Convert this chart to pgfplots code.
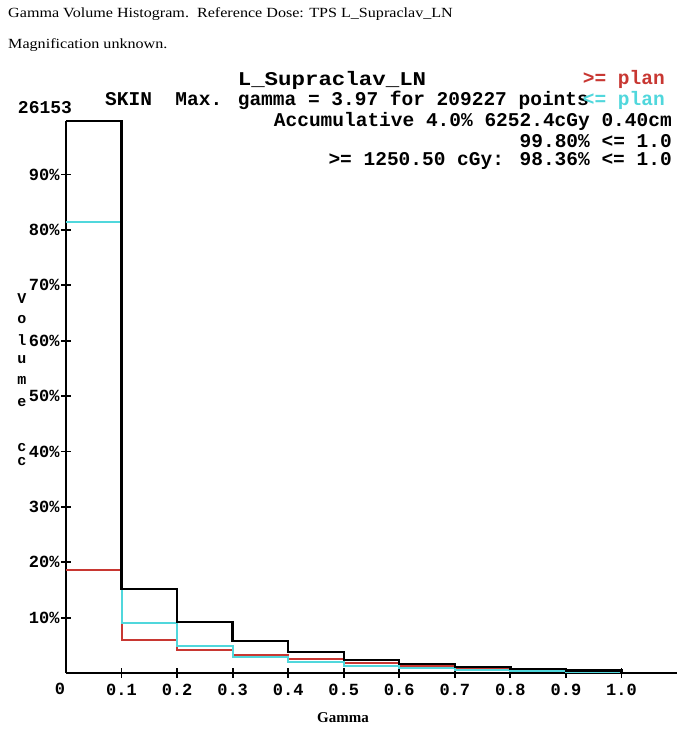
\documentclass[border=0pt]{standalone}
\usepackage{fontspec}
\setmainfont{Liberation Serif}
\newfontfamily\mono{Liberation Mono}
\usepackage{pgfplots}
\pgfplotsset{compat=1.18}

\definecolor{planred}{RGB}{200,55,50}
\definecolor{plancyan}{RGB}{80,215,220}

\begin{document}
\begin{tikzpicture}
\path[use as bounding box, fill=white] (0pt,0pt) rectangle (677pt,733pt);

% page header
\node[anchor=west, inner sep=0pt, xscale=1.15, font=\fontsize{14}{14}\selectfont] at (8pt,719pt)
  {Gamma Volume Histogram.\ \ Reference Dose: TPS L\_Supraclav\_LN};
\node[anchor=west, inner sep=0pt, xscale=1.15, font=\fontsize{14}{14}\selectfont] at (8pt,688pt)
  {Magnification unknown.};

% chart heading block
\begin{scope}[every node/.style={inner sep=0pt, font=\mono\bfseries\fontsize{19.5}{19.5}\selectfont}]
\node[xscale=1.15] at (332pt,653pt) {L\_Supraclav\_LN};
\node[anchor=east, text=planred] at (665pt,654pt) {>= plan};
\node[anchor=west] at (105pt,633pt) {SKIN\ \ Max. gamma = 3.97 for 209227 points};
\node[anchor=east, text=plancyan] at (665pt,633pt) {<= plan};
\node[anchor=east] at (672pt,612pt) {Accumulative 4.0\% 6252.4cGy 0.40cm};
\node[anchor=east] at (672pt,592pt) {99.80\% <= 1.0};
\node[anchor=east] at (672pt,572pt) {>= 1250.50 cGy: 98.36\% <= 1.0};
\end{scope}
\node[inner sep=0pt, font=\mono\bfseries\fontsize{18}{18}\selectfont] at (45pt,625pt) {26153};

% stacked y label
\begin{scope}[every node/.style={inner sep=0pt, font=\mono\bfseries\fontsize{15}{15}\selectfont}]
\node at (22pt,434pt) {V};
\node at (22pt,413pt) {o};
\node at (22pt,393pt) {l};
\node at (22pt,373pt) {u};
\node at (22pt,353pt) {m};
\node at (22pt,330pt) {e};
\node at (22pt,285pt) {c};
\node at (22pt,271pt) {c};
\end{scope}

\node[inner sep=0pt, font=\bfseries\fontsize{15}{15}\selectfont] at (343pt,15pt) {Gamma};
\node[inner sep=0pt, font=\mono\bfseries\fontsize{17}{17}\selectfont] at (60pt,44pt) {0};

\begin{axis}[
  at={(66pt,60pt)}, anchor=origin,
  scale only axis, width=611pt, height=552.3pt,
  xmin=0, xmax=1.1, ymin=0, ymax=99.7,
  axis x line*=bottom, axis y line*=left,
  axis line style={line width=2.2pt, black},
  xtick={0.1,0.2,0.3,0.4,0.5,0.6,0.7,0.8,0.9,1.0},
  xticklabels={0.1,0.2,0.3,0.4,0.5,0.6,0.7,0.8,0.9,1.0},
  ytick={10,20,30,40,50,60,70,80,90},
  yticklabels={10\%,20\%,30\%,40\%,50\%,60\%,70\%,80\%,90\%},
  tick align=center, major tick length=10pt,
  tick style={line width=1.8pt, black},
  tick label style={font=\mono\bfseries\fontsize{17}{17}\selectfont},
  xticklabel style={yshift=-3pt},
  yticklabel style={xshift=2pt},
  clip=false,
]
\addplot[const plot, planred, line width=2pt] coordinates {
  (0,18.6)(0.1,5.95)(0.2,4.15)(0.3,3.2)(0.4,2.6)(0.5,1.8)
  (0.6,1.2)(0.7,0.85)(0.8,0.55)(0.9,0.3)(1.0,0)};
\addplot[const plot, plancyan, line width=2pt] coordinates {
  (0,81.35)(0.1,8.95)(0.2,4.85)(0.3,2.8)(0.4,2.0)(0.5,1.25)
  (0.6,0.85)(0.7,0.5)(0.8,0.35)(0.9,0.2)(1.0,0)};
\addplot[const plot, black, line width=2.3pt] coordinates {
  (0,99.7)(0.1,15.1)(0.2,9.25)(0.3,5.8)(0.4,3.8)(0.5,2.4)
  (0.6,1.57)(0.7,1.08)(0.8,0.72)(0.9,0.45)(1.0,0)};
\end{axis}
\end{tikzpicture}
\end{document}
